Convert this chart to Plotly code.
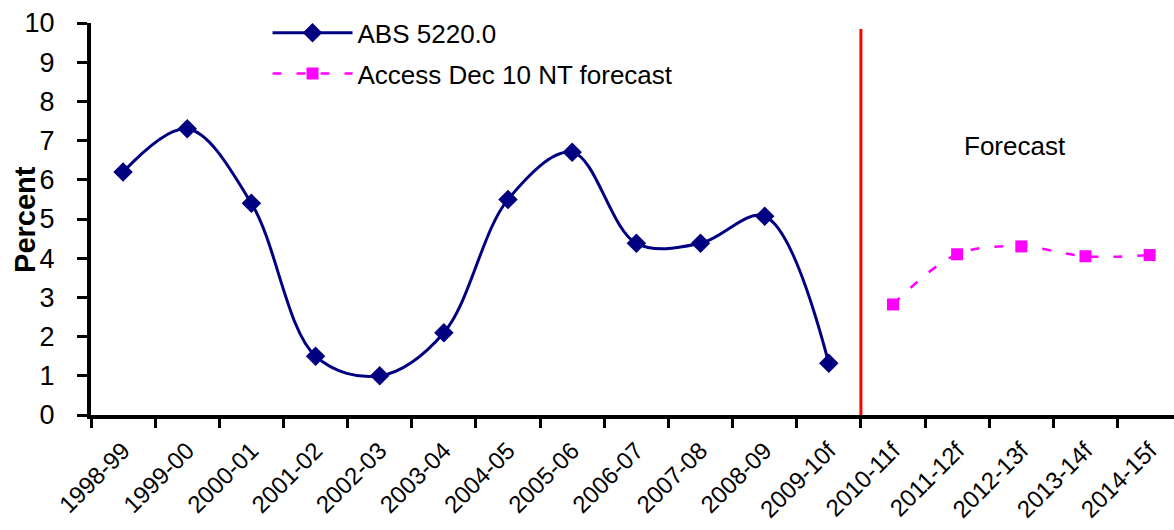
import plotly.graph_objects as go

# Financial years on the category axis
years = ["1998-99", "1999-00", "2000-01", "2001-02", "2002-03", "2003-04",
         "2004-05", "2005-06", "2006-07", "2007-08", "2008-09", "2009-10f",
         "2010-11f", "2011-12f", "2012-13f", "2013-14f", "2014-15f"]

# ABS 5220.0 actuals
abs_years = years[:12]
abs_values = [6.2, 7.3, 5.4, 1.5, 1.0, 2.1, 5.5, 6.7, 4.38, 4.38, 5.07, 1.32]

# Access Economics December 2010 NT forecast
fc_years = years[12:]
fc_values = [2.82, 4.1, 4.3, 4.05, 4.08]

FONT = "Liberation Sans, Arial, sans-serif"

fig = go.Figure()

fig.add_trace(go.Scatter(
    x=abs_years, y=abs_values, name="ABS 5220.0",
    legendgroup="abs",
    mode="lines+markers",
    line=dict(color="#000080", width=3, shape="spline", smoothing=1.0),
    marker=dict(symbol="diamond", size=15, color="#000080"),
))

fig.add_trace(go.Scatter(
    x=fc_years, y=fc_values, name="Access Dec 10 NT forecast",
    legendgroup="fc",
    mode="lines+markers",
    line=dict(color="#FF00FF", width=2.5, dash="9px,15px", shape="spline", smoothing=1.0),
    marker=dict(symbol="square", size=12, color="#FF00FF"),
))

# Divider between actuals and forecasts
fig.add_shape(type="line", xref="x", yref="y",
              x0=11.5, x1=11.5, y0=0, y1=9.85,
              line=dict(color="#FF0000", width=3))

fig.add_annotation(x=13.9, y=6.85, xref="x", yref="y", text="Forecast",
                   showarrow=False, font=dict(family=FONT, size=26, color="black"))

# Y-axis title
fig.add_annotation(x=-0.061, y=0.5, xref="paper", yref="paper", text="<b>Percent</b>",
                   textangle=-90, showarrow=False, xanchor="center", yanchor="middle",
                   font=dict(family=FONT, size=29, color="black"))

fig.update_layout(
    width=1174, height=530,
    margin=dict(l=91, r=0, t=23, b=115),
    plot_bgcolor="white", paper_bgcolor="white",
    font=dict(family=FONT, color="black"),
    showlegend=True,
    legend=dict(x=0.163, y=1.035, xanchor="left", yanchor="top",
                bgcolor="rgba(0,0,0,0)", font=dict(family=FONT, size=26),
                itemwidth=80, tracegroupgap=4),
)

fig.update_xaxes(
    type="category", categoryorder="array", categoryarray=years,
    range=[-0.5, 16.38], tickson="boundaries", automargin=False,
    showline=True, linecolor="black", linewidth=4,
    ticks="outside", ticklen=9, tickwidth=3, tickcolor="black",
    tickangle=-45, tickfont=dict(family=FONT, size=24),
    ticklabelstandoff=8,
    showgrid=False, zeroline=False,
)

fig.update_yaxes(
    range=[0, 10], dtick=1, automargin=False,
    showline=True, linecolor="black", linewidth=4,
    ticks="outside", ticklen=10, tickwidth=3, tickcolor="black",
    tickfont=dict(family=FONT, size=27),
    ticklabelstandoff=17,
    showgrid=False, zeroline=False,
)

fig.write_html("out.html")
